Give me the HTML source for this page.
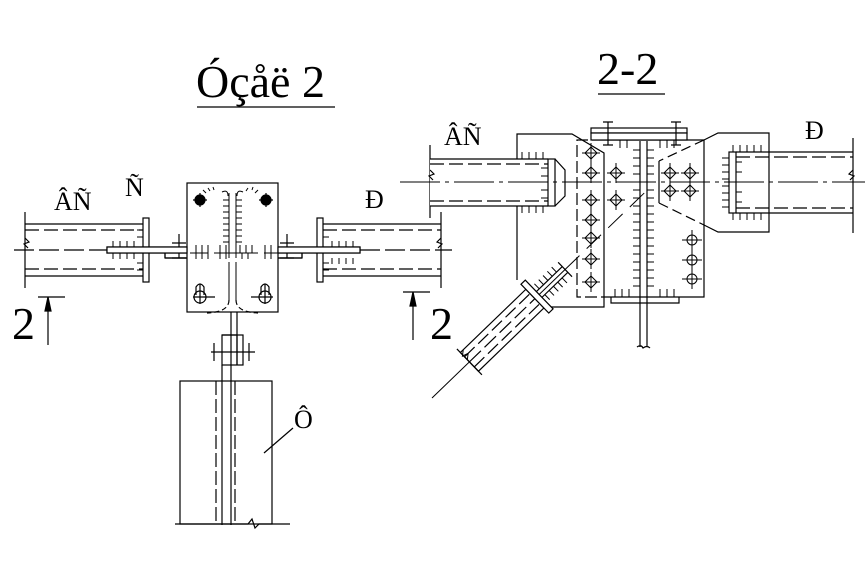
<!DOCTYPE html>
<html><head><meta charset="utf-8"><style>
html,body{margin:0;padding:0;background:#fff;}
svg{display:block;}
text{font-family:"Liberation Serif",serif;fill:#000;}
</style></head><body>
<svg width="865" height="578" viewBox="0 0 865 578" xmlns="http://www.w3.org/2000/svg" stroke="#000" stroke-width="1.2" fill="none">
<defs>
<g id="b"><path d="M0 -6l6 6l-6 6l-6 -6z"/><path d="M-9 0h18M0 -10v20"/></g>
</defs>
<!-- Titles -->
<text x="196" y="97" font-size="46" stroke="none">Óçåë 2</text>
<line x1="197" y1="107" x2="335" y2="107"/>
<text x="597" y="84" font-size="46" stroke="none">2-2</text>
<line x1="598" y1="94" x2="665" y2="94"/>

<!-- ========== LEFT VIEW ========== -->
<text x="54" y="210" font-size="26" stroke="none">ÂÑ</text>
<text x="125" y="196" font-size="26" stroke="none">Ñ</text>
<text x="365" y="208" font-size="26" stroke="none">Ð</text>
<line x1="25" y1="212" x2="25" y2="288"/>
<line x1="25" y1="224" x2="143" y2="224"/>
<line x1="25" y1="276" x2="143" y2="276"/>
<line x1="25" y1="230" x2="143" y2="230" stroke-dasharray="14,5"/>
<line x1="25" y1="269" x2="143" y2="269" stroke-dasharray="14,5"/>
<line x1="14" y1="250" x2="107" y2="250" stroke-dasharray="20,5"/>
<path d="M25 238 l4 4 l-5 2 l4 4"/>
<rect x="143" y="218" width="6" height="64" fill="#fff"/>
<line x1="441" y1="212" x2="441" y2="288"/>
<line x1="323" y1="224" x2="441" y2="224"/>
<line x1="323" y1="276" x2="441" y2="276"/>
<line x1="323" y1="230" x2="441" y2="230" stroke-dasharray="14,5"/>
<line x1="323" y1="269" x2="441" y2="269" stroke-dasharray="14,5"/>
<line x1="360" y1="250" x2="452" y2="250" stroke-dasharray="20,5"/>
<path d="M441 238 l-4 4 l5 2 l-4 4"/>
<rect x="317" y="218" width="6" height="64" fill="#fff"/>
<rect x="107" y="247" width="253" height="6" fill="#fff"/>
<rect x="165" y="253" width="137" height="5" fill="#fff"/>
<g stroke-width="1">
<path d="M113 241v6M120 241v6M127 241v6M134 241v6M113 253v6M120 253v6M127 253v6M134 253v6"/>
<path d="M137 230h6M137 237h6M137 263h6M137 270h6"/>
<path d="M332 241v6M339 241v6M346 241v6M353 241v6M332 258v6M339 258v6M346 258v6M353 258v6"/>
<path d="M323 230h6M323 237h6M323 263h6M323 270h6"/>
</g>
<path d="M179 234v24M172 243h14M172 258h14 M287 234v24M280 243h14M280 258h14"/>
<rect x="187" y="183" width="91" height="129" fill="#fff"/>
<rect x="107" y="247" width="80" height="6" fill="#fff"/>
<rect x="278" y="247" width="82" height="6" fill="#fff"/>
<line x1="165" y1="258" x2="187" y2="258"/><line x1="165" y1="253" x2="165" y2="258"/>
<line x1="278" y1="258" x2="302" y2="258"/><line x1="302" y1="253" x2="302" y2="258"/>
<circle cx="200" cy="200" r="5" fill="#000"/>
<circle cx="266" cy="200" r="5" fill="#000"/>
<path d="M193 200h14M200 193v14M259 200h14M266 193v14"/>
<path d="M229 193v65M236 193v65M229 262v38M236 262v38" stroke-width="1"/>
<path d="M229 300q0 12 -22 13M236 300q0 12 22 13" stroke-dasharray="5,3"/>
<path d="M190 253h18M214 253h44M264 253h14" stroke-width="1"/>
<path d="M196 253v-8M202 253v-8M208 253v-8M196 253v6M202 253v6M208 253v6 M220 253v-8M226 253v-8M240 253v-8M246 253v-8M252 253v-8M220 253v6M226 253v6M242 253v6M248 253v6M265 253v-8M271 253v-8M265 253v6M271 253v6" stroke-width="1"/>
<path d="M223 200h6M223 206h6M223 212h6M223 218h6M223 224h6M223 230h6M223 236h6M223 242h6M236 200h6M236 206h6M236 212h6M236 218h6M236 224h6M236 230h6M236 236h6M236 242h6" stroke-width="1"/>
<path d="M203 190l3 3M208 188l2 3M213 187l1 3M248 188l-2 3M253 187l-1 3M258 190l-3 3M222 192q6-3 6 4M243 192q-6-3 -6 4" stroke-width="1"/>
<circle cx="200" cy="297" r="6"/><path d="M193 297h22M200 284v20M196 295v-8q4-6 8 0v8"/>
<circle cx="265" cy="297" r="6"/><path d="M251 297h22M265 284v20M261 295v-8q4-6 8 0v8"/>
<path d="M231 312v213M237 312v53M222 365v160"/>
<rect x="222" y="335" width="21" height="30" fill="none"/>
<path d="M222 335h15M237 335v30"/>
<path d="M211 352h44M214 343v18M249 343v18"/>
<rect x="180" y="381" width="92" height="143"/>
<line x1="216" y1="381" x2="216" y2="524" stroke-dasharray="14,4"/>
<line x1="235" y1="381" x2="235" y2="524" stroke-dasharray="14,4"/>
<path d="M175 524h73l4 -5l3 9l4 -4h31"/>
<text x="294" y="428" font-size="26" stroke="none">Ô</text>
<line x1="293" y1="428" x2="264" y2="453"/>
<text x="12" y="339" font-size="46" stroke="none">2</text>
<path d="M38 297h27M48 297v48"/><path d="M48 297l-3 14h6z" fill="#000"/>
<text x="430" y="339" font-size="46" stroke="none">2</text>
<path d="M403 292h27M413 292v48"/><path d="M413 292l-3 14h6z" fill="#000"/>

<!-- ========== RIGHT VIEW (2-2) ========== -->
<text x="444" y="145" font-size="26" stroke="none">ÂÑ</text>
<text x="805" y="139" font-size="26" stroke="none">Ð</text>
<path d="M517 280V134h55l32 19v154h-57"/>
<path d="M604 140h100v157H604" />
<path d="M604 140h-27v157h27" stroke-dasharray="12,4"/>
<rect x="591" y="128" width="96" height="5" fill="#fff"/>
<rect x="591" y="133" width="96" height="7" fill="#fff"/>
<path d="M608 122v23M603 122h10M603 145h10M676 122v23M671 122h10M671 145h10"/>
<path d="M611 297v6h68v-6"/>
<path d="M640 141v206M647 141v206M637 347q4 -3 6 1q4 -3 7 0"/>
<g stroke-width="1">
<path d="M633 150h7M633 158h7M633 166h7M633 174h7M633 182h7M633 190h7M633 198h7M633 206h7M633 214h7M633 222h7M633 230h7M633 238h7M633 246h7M633 254h7M633 262h7M633 270h7M633 278h7M633 286h7"/>
<path d="M647 150h7M647 158h7M647 166h7M647 174h7M647 182h7M647 190h7M647 198h7M647 206h7M647 214h7M647 222h7M647 230h7M647 238h7M647 246h7M647 254h7M647 262h7M647 270h7M647 278h7M647 286h7"/>
<path d="M620 140v8M627 140v8M660 140v8M667 140v8M674 140v8M615 297v-8M622 297v-8M629 297v-8M660 297v-8M667 297v-8M674 297v-8"/>
</g>
<path d="M704 140l14 -7h51v99h-51l-14 -7"/>
<path d="M704 140l-45 21M659 203l45 22" stroke-dasharray="10,5"/>
<path d="M659 161v42"/>
<line x1="430" y1="145" x2="430" y2="218"/>
<rect x="430" y="159" width="118" height="47" fill="#fff" stroke="none"/>
<line x1="430" y1="159" x2="548" y2="159"/>
<line x1="430" y1="206" x2="548" y2="206"/>
<line x1="430" y1="164" x2="548" y2="164" stroke-dasharray="14,5"/>
<line x1="430" y1="201" x2="548" y2="201" stroke-dasharray="14,5"/>
<path d="M430 170l4 4l-5 2l4 4"/>
<rect x="548" y="159" width="7" height="47" fill="#fff"/>
<path d="M555 159l10 11v26l-10 10"/>
<g stroke-width="1"><path d="M522 152v7M529 152v7M536 152v7M543 152v7M522 206v7M529 206v7M536 206v7M543 206v7M541 168h7M541 176h7M541 190h7M541 198h7"/></g>
<line x1="853" y1="138" x2="853" y2="233"/>
<line x1="736" y1="152" x2="853" y2="152"/>
<line x1="736" y1="213" x2="853" y2="213"/>
<line x1="736" y1="157" x2="853" y2="157" stroke-dasharray="14,5"/>
<line x1="736" y1="208" x2="853" y2="208" stroke-dasharray="14,5"/>
<path d="M853 170l-4 4l5 2l-4 4"/>
<rect x="729" y="152" width="7" height="61" fill="#fff"/>
<g stroke-width="1"><path d="M733 145v7M740 145v7M747 145v7M754 145v7M761 145v7M733 213v7M740 213v7M747 213v7M754 213v7M761 213v7M722 158h7M722 165h7M722 172h7M722 179h7M722 186h7M722 193h7M722 200h7M722 207h7M736 162h6M736 172h6M736 192h6M736 202h6"/></g>
<line x1="400" y1="182" x2="865" y2="182" stroke="#000" stroke-dasharray="40,5,4,5" stroke-width="1"/>
<g stroke-width="1">
<use href="#b" x="591" y="153"/><use href="#b" x="591" y="173"/><use href="#b" x="591" y="200"/><use href="#b" x="591" y="220"/><use href="#b" x="591" y="238"/><use href="#b" x="591" y="259"/><use href="#b" x="591" y="282"/>
<use href="#b" x="616" y="173"/><use href="#b" x="616" y="200"/>
<use href="#b" x="670" y="173"/><use href="#b" x="690" y="173"/><use href="#b" x="670" y="191"/><use href="#b" x="690" y="191"/>
<circle cx="692" cy="240" r="5"/><circle cx="692" cy="260" r="5"/><circle cx="692" cy="279" r="5"/>
<path d="M682 240h20M692 230v20M682 260h20M692 250v20M682 279h20M692 269v20"/>
</g>
<g transform="translate(432,398) rotate(-44)">
<line x1="0" y1="0" x2="185" y2="0" stroke-width="1"/>
<line x1="185" y1="0" x2="298" y2="0" stroke-dasharray="20,10" stroke-width="1"/>
<rect x="52" y="-13" width="91" height="26" fill="#fff"/>
<line x1="52" y1="0" x2="143" y2="0" stroke-dasharray="16,5"/>
<line x1="52" y1="-7" x2="143" y2="-7" stroke-dasharray="14,5"/>
<line x1="52" y1="7" x2="143" y2="7" stroke-dasharray="14,5"/>
<path d="M52 -18v36"/>
<path d="M56 -13l-5 4l6 2l-5 4" stroke-width="1"/>
<rect x="143" y="-20" width="6" height="40" fill="#fff"/>
<path d="M149 -4h36M149 4h36M185 -10v20"/>
<path d="M153 -4v-7M159 -4v-7M165 -4v-7M171 -4v-7M177 -4v-7M153 4v7M159 4v7M165 4v7M171 4v7M177 4v7" stroke-width="1"/>
</g>
</svg>
</body></html>
